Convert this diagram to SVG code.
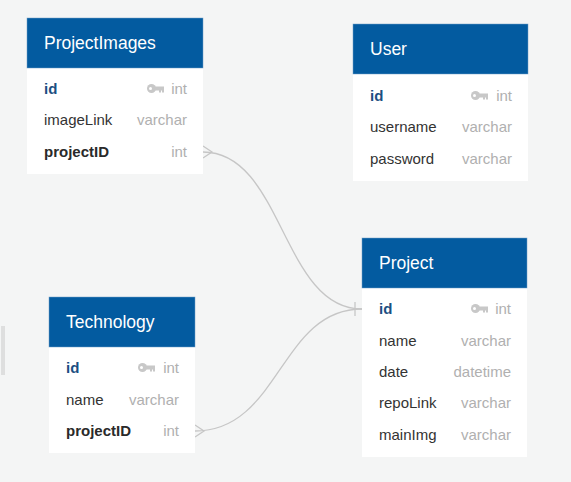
<svg xmlns="http://www.w3.org/2000/svg" width="571" height="482" viewBox="0 0 571 482">
<style>
.bg{fill:#f4f5f5}
.body{fill:#ffffff}
.hdr{fill:#035ba0;stroke:#6f9fc8;stroke-width:0.5}
.ttl{font-family:"Liberation Sans",Arial,sans-serif;font-size:17.5px;fill:#ffffff}
.f{font-family:"Liberation Sans",Arial,sans-serif;font-size:15px;fill:#333333}
.pk{font-weight:bold;fill:#1c4f82}
.fk{font-weight:bold;fill:#2a2a2a}
.t{font-family:"Liberation Sans",Arial,sans-serif;font-size:15px;fill:#b0b0b0;text-anchor:end}
.conn{fill:none;stroke:#c6c6c6;stroke-width:1.3}
</style>
<defs>
<g id="key">
<circle cx="4.5" cy="4.5" r="4.5" fill="#c8c8c8"/>
<rect x="6" y="2.5" width="11" height="4" fill="#c8c8c8"/>
<rect x="12" y="5" width="2" height="3.5" fill="#c8c8c8"/>
<rect x="15" y="5" width="2" height="3.5" fill="#c8c8c8"/>
<circle cx="3.5" cy="4.5" r="1.5" fill="#ffffff"/>
</g>
</defs>
<rect class="bg" x="0" y="0" width="571" height="482"/>
<line x1="2" y1="326" x2="2" y2="375" stroke="#c8c8c8" stroke-width="1"/>
<line x1="4" y1="326" x2="4" y2="375" stroke="#c8c8c8" stroke-width="1"/>

<g id="connectors">
<path class="conn" d="M203,152 C283,152 282,309 362,309"/>
<path class="conn" d="M203,146 L212,152 L203,158"/>
<path class="conn" d="M195,431 C280,431 280,309 362,309"/>
<path class="conn" d="M195,425 L204,431 L195,437"/>
<line class="conn" x1="355" y1="302" x2="355" y2="316"/>
</g>

<g id="ProjectImages">
<rect class="body" x="27" y="18" width="176" height="156"/>
<rect class="hdr" x="27" y="18" width="176" height="50"/>
<text class="ttl" x="44" y="49">ProjectImages</text>
<text class="f pk" x="44" y="94">id</text>
<use href="#key" x="147" y="84"/>
<text class="t" x="187" y="94">int</text>
<text class="f" x="44" y="125">imageLink</text>
<text class="t" x="187" y="125">varchar</text>
<text class="f fk" x="44" y="157">projectID</text>
<text class="t" x="187" y="157">int</text>
</g>

<g id="User">
<rect class="body" x="353" y="24" width="175" height="157"/>
<rect class="hdr" x="353" y="24" width="175" height="50"/>
<text class="ttl" x="370" y="55">User</text>
<text class="f pk" x="370" y="101">id</text>
<use href="#key" x="471" y="91"/>
<text class="t" x="512" y="101">int</text>
<text class="f" x="370" y="132">username</text>
<text class="t" x="512" y="132">varchar</text>
<text class="f" x="370" y="164">password</text>
<text class="t" x="512" y="164">varchar</text>
</g>

<g id="Technology">
<rect class="body" x="49" y="297" width="146" height="156"/>
<rect class="hdr" x="49" y="297" width="146" height="50"/>
<text class="ttl" x="66" y="328">Technology</text>
<text class="f pk" x="66" y="373">id</text>
<use href="#key" x="138" y="363"/>
<text class="t" x="179" y="373">int</text>
<text class="f" x="66" y="405">name</text>
<text class="t" x="179" y="405">varchar</text>
<text class="f fk" x="66" y="436">projectID</text>
<text class="t" x="179" y="436">int</text>
</g>

<g id="Project">
<rect class="body" x="362" y="238" width="165" height="219"/>
<rect class="hdr" x="362" y="238" width="165" height="50"/>
<text class="ttl" x="379" y="269">Project</text>
<text class="f pk" x="379" y="314">id</text>
<use href="#key" x="471" y="304"/>
<text class="t" x="511" y="314">int</text>
<text class="f" x="379" y="346">name</text>
<text class="t" x="511" y="346">varchar</text>
<text class="f" x="379" y="377">date</text>
<text class="t" x="511" y="377">datetime</text>
<text class="f" x="379" y="408">repoLink</text>
<text class="t" x="511" y="408">varchar</text>
<text class="f" x="379" y="440">mainImg</text>
<text class="t" x="511" y="440">varchar</text>
</g>
</svg>
